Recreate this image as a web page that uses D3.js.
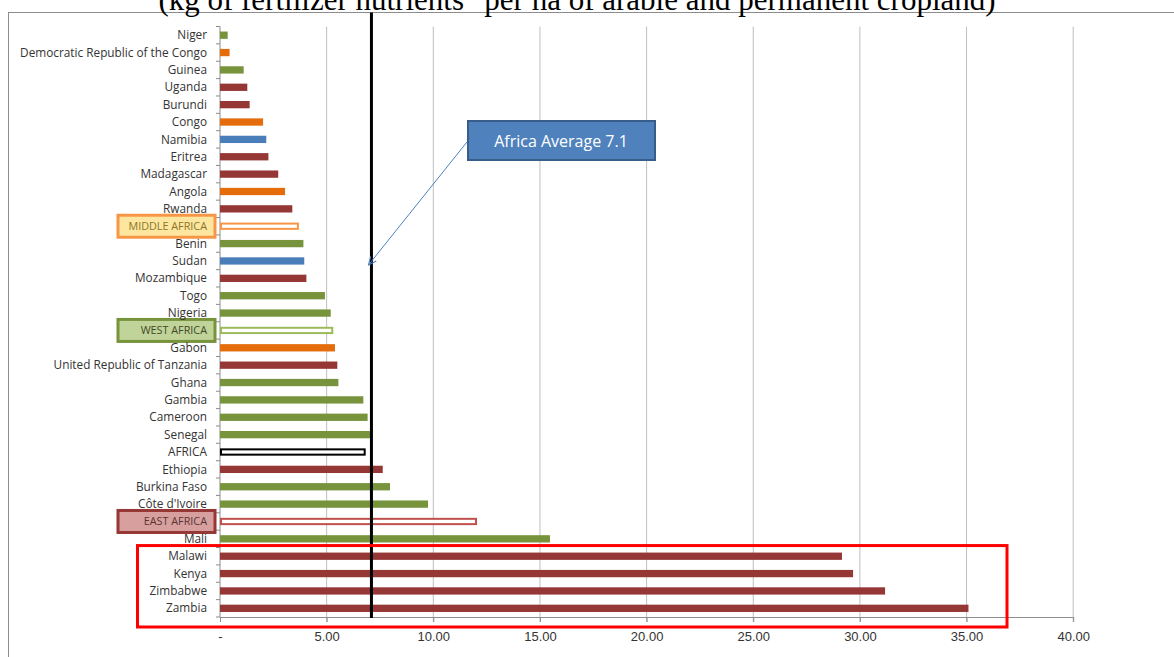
<!DOCTYPE html>
<html>
<head>
<meta charset="utf-8">
<script src="https://cdn.jsdelivr.net/npm/d3@7"></script>
<style>
  body { margin: 0; background: #fff; }
  svg { display: block; }
</style>
</head>
<body>
<script>
// fertilizer use, kg/ha
const countries = ["Niger", "Democratic Republic of the Congo", "Guinea", "Uganda", "Burundi", "Congo",
  "Namibia", "Eritrea", "Madagascar", "Angola", "Rwanda", "MIDDLE AFRICA", "Benin", "Sudan", "Mozambique",
  "Togo", "Nigeria", "WEST AFRICA", "Gabon", "United Republic of Tanzania", "Ghana", "Gambia", "Cameroon",
  "Senegal", "AFRICA", "Ethiopia", "Burkina Faso", "Côte d'Ivoire", "EAST AFRICA", "Mali", "Malawi",
  "Kenya", "Zimbabwe", "Zambia"];
const values = [0.36, 0.45, 1.11, 1.28, 1.39, 2.02, 2.17, 2.27, 2.73, 3.05, 3.39, 3.70, 3.91, 3.95, 4.05,
  4.92, 5.19, 5.31, 5.39, 5.50, 5.55, 6.72, 6.92, 7.03, 6.83, 7.63, 7.97, 9.75, 12.05, 15.47, 29.16,
  29.68, 31.18, 35.09];
const regions = ["west", "middle", "west", "east", "east", "middle", "other", "east", "east", "middle",
  "east", "middle", "west", "other", "east", "west", "west", "west", "middle", "east", "west", "west",
  "west", "west", "africa", "east", "west", "west", "east", "west", "east", "east", "east", "east"];
const aggregates = ["MIDDLE AFRICA", "WEST AFRICA", "AFRICA", "EAST AFRICA"];
const xTicks = [0, 5, 10, 15, 20, 25, 30, 35, 40];
const africaAverage = 7.1;
const highlighted = ["Malawi", "Kenya", "Zimbabwe", "Zambia"];
const titleText = "(kg of fertilizer nutrients\" per ha of arable and permanent cropland)";

const width = 1174, height = 657;
const margin = {top: 26.5, right: 100, bottom: 40, left: 220};

const fill = {west: "#77933c", middle: "#e46c0a", east: "#953735", other: "#4a7ebb"};
const outline = {west: "#9bbb59", middle: "#f79646", east: "#c0504d", africa: "#000"};
const boxStyle = {
  middle: {fill: "#fde6a0", stroke: "#f79646", text: "#8a7526"},
  west: {fill: "#c0d399", stroke: "#77933c", text: "#3f4a2a"},
  east: {fill: "#d7a09f", stroke: "#953735", text: "#5a3434"}
};

const rows = countries.map((c, i) => ({name: c, value: values[i], region: regions[i], agg: aggregates.includes(c)}));

const x = d3.scaleLinear().domain([0, 40]).range([margin.left, margin.left + 40 * 21.33]);
const y = d3.scaleBand().domain(countries).range([margin.top, 617]).paddingInner(0.58).paddingOuter(0.29);

const svg = d3.select("body").append("svg").attr("width", width).attr("height", height)
    .style("font-family", "'Open Sans', sans-serif");

// frame + clipped title
svg.append("rect").attr("x", 8.5).attr("y", 12.5).attr("width", 1300).attr("height", 800)
    .attr("fill", "none").attr("stroke", "#8c8c8c");
svg.append("text").attr("x", 577).attr("y", 10).attr("text-anchor", "middle")
    .attr("font-family", "'Liberation Serif', serif").attr("font-size", 31)
    .text(titleText);

// grid
svg.append("g").attr("stroke", "#bfbfbf")
  .selectAll("line").data(xTicks.slice(1)).join("line")
    .attr("x1", d => x(d)).attr("x2", d => x(d))
    .attr("y1", margin.top).attr("y2", 622);

// x axis
const xAxis = svg.append("g").attr("transform", "translate(0,617)")
    .call(d3.axisBottom(x).tickValues(xTicks).tickSize(5).tickSizeOuter(0)
      .tickFormat(d => d === 0 ? "-" : d3.format(".2f")(d)));
xAxis.select(".domain").attr("stroke", "#8c8c8c");
xAxis.selectAll(".tick line").attr("stroke", "#8c8c8c");
xAxis.selectAll("text").attr("font-size", 13).attr("fill", "#333").attr("y", 15).attr("dy", "0.71em");

// y axis: ticks at band boundaries
const yg = svg.append("g");
yg.append("line").attr("x1", x(0)).attr("x2", x(0)).attr("y1", margin.top).attr("y2", 617).attr("stroke", "#8c8c8c");
yg.selectAll(".yt").data(d3.range(countries.length + 1)).join("line")
    .attr("x1", x(0) - 4).attr("x2", x(0))
    .attr("y1", i => margin.top + i * (617 - margin.top) / countries.length)
    .attr("y2", i => margin.top + i * (617 - margin.top) / countries.length)
    .attr("stroke", "#8c8c8c");

// bars
svg.append("g").selectAll("rect").data(rows).join("rect")
    .attr("x", d => x(0) + (d.agg ? 1 : 0))
    .attr("y", d => y(d.name) + (d.agg ? 1 : 0))
    .attr("width", d => x(d.value) - x(0) - (d.agg ? 2 : 0))
    .attr("height", d => y.bandwidth() - (d.agg ? 2 : 0))
    .attr("fill", d => d.agg ? "#fff" : fill[d.region])
    .attr("stroke", d => d.agg ? outline[d.region] : "none")
    .attr("stroke-width", 2);

// labels, aggregates get a box
const labels = svg.append("g").attr("font-size", 11.8).attr("text-anchor", "end");
labels.selectAll("rect").data(rows.filter(d => boxStyle[d.region] && d.agg)).join("rect")
    .attr("x", 118).attr("width", 97)
    .attr("y", d => y(d.name) + y.bandwidth() / 2 - 11).attr("height", 22)
    .attr("fill", d => boxStyle[d.region].fill)
    .attr("stroke", d => boxStyle[d.region].stroke).attr("stroke-width", 3);
labels.selectAll("text").data(rows).join("text")
    .attr("x", 207).attr("y", d => y(d.name) + y.bandwidth() / 2).attr("dy", "0.35em")
    .attr("font-size", d => d.agg && boxStyle[d.region] ? 10.8 : null)
    .attr("fill", d => d.agg && boxStyle[d.region] ? boxStyle[d.region].text : "#333")
    .text(d => d.name);

// average line
svg.append("line").attr("x1", x(africaAverage)).attr("x2", x(africaAverage))
    .attr("y1", 12.5).attr("y2", 618).attr("stroke", "#000").attr("stroke-width", 3);

// highlight box round the top four
const hi = highlighted.map(d => y(d));
svg.append("rect").attr("x", 137.5).attr("y", d3.min(hi) - 7)
    .attr("width", 1007 - 137.5).attr("height", 627 - (d3.min(hi) - 7))
    .attr("fill", "none").attr("stroke", "#ff0000").attr("stroke-width", 3);

// callout
svg.append("defs").append("marker").attr("id", "arr").attr("viewBox", "0 0 10 10")
    .attr("refX", 9).attr("refY", 5).attr("markerWidth", 9).attr("markerHeight", 9)
    .attr("orient", "auto").append("path").attr("d", "M0,1L9,5L0,9")
    .attr("fill", "none").attr("stroke", "#4f81bd").attr("stroke-width", 1.2);
svg.append("line").attr("x1", 467).attr("y1", 142).attr("x2", x(africaAverage) - 3).attr("y2", 265)
    .attr("stroke", "#4f81bd").attr("stroke-width", 1).attr("marker-end", "url(#arr)");
svg.append("rect").attr("x", 468).attr("y", 121).attr("width", 187).attr("height", 39)
    .attr("fill", "#4f81bd").attr("stroke", "#385d8a").attr("stroke-width", 2);
svg.append("text").attr("x", 561).attr("y", 141).attr("dy", "0.35em").attr("text-anchor", "middle")
    .attr("fill", "#fff").attr("font-size", 16).text("Africa Average " + africaAverage);
</script>
</body>
</html>
